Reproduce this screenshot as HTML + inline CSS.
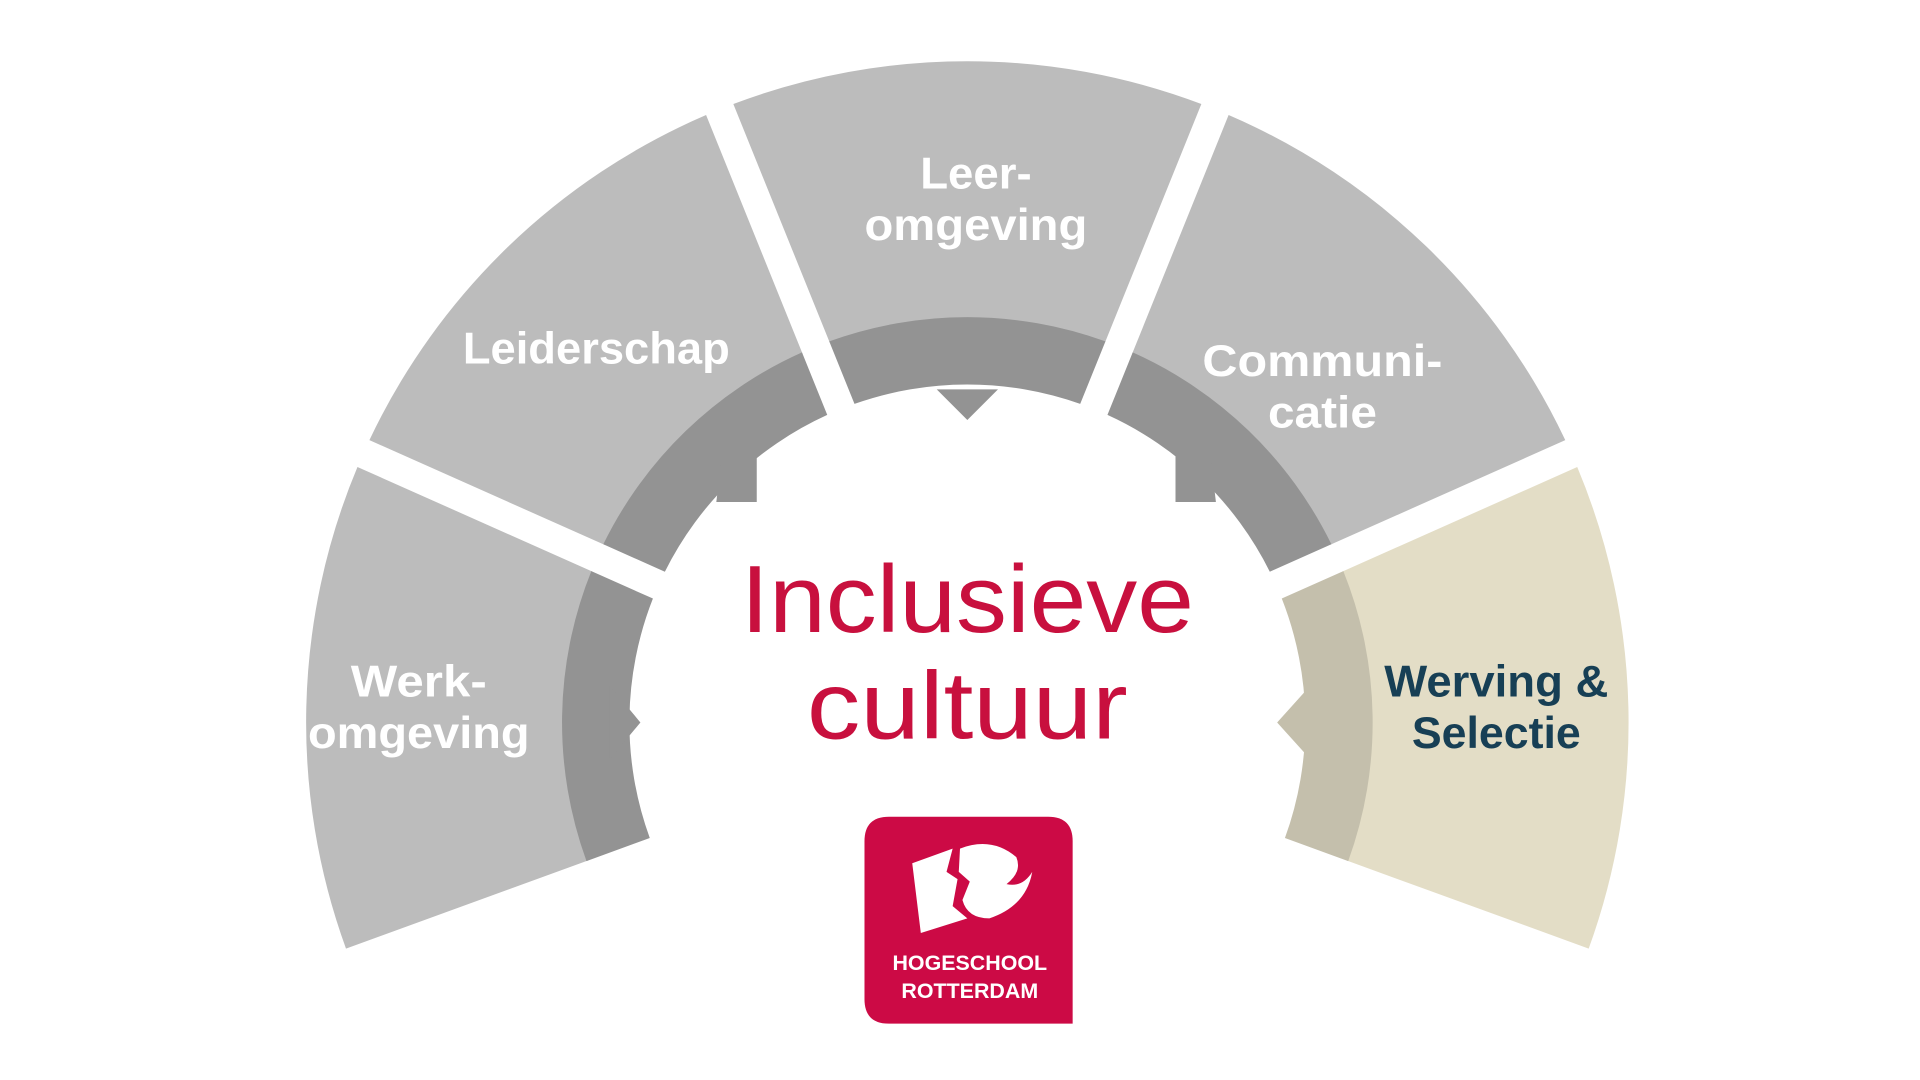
<!DOCTYPE html>
<html><head><meta charset="utf-8"><style>
html,body{margin:0;padding:0;background:#fff;width:1920px;height:1080px;overflow:hidden}
svg{display:block}
text{font-family:"Liberation Sans",sans-serif}
</style></head><body>
<svg id="s" width="1920" height="1080" viewBox="0 0 1568 882" xmlns="http://www.w3.org/2000/svg">
<g id="segs"></g>
<g font-weight="bold" font-size="36" text-anchor="middle" fill="#fff">
<text x="797" y="154" textLength="91" lengthAdjust="spacingAndGlyphs">Leer-</text>
<text x="797" y="196" textLength="182" lengthAdjust="spacingAndGlyphs">omgeving</text>
<text x="487" y="297" textLength="218" lengthAdjust="spacingAndGlyphs">Leiderschap</text>
<text x="1080" y="307" textLength="196" lengthAdjust="spacingAndGlyphs">Communi-</text>
<text x="1080" y="349" textLength="89" lengthAdjust="spacingAndGlyphs">catie</text>
<text x="342" y="569" textLength="111" lengthAdjust="spacingAndGlyphs">Werk-</text>
<text x="342" y="611" textLength="181" lengthAdjust="spacingAndGlyphs">omgeving</text>
<text x="1222" y="569" fill="#173f55" textLength="183" lengthAdjust="spacingAndGlyphs">Werving &amp;</text>
<text x="1222" y="611" fill="#173f55" textLength="138" lengthAdjust="spacingAndGlyphs">Selectie</text>
</g>
<g fill="#c8103e" font-size="78" text-anchor="middle">
<text x="790" y="516" textLength="370" lengthAdjust="spacingAndGlyphs">Inclusieve</text>
<text x="790" y="603" textLength="262" lengthAdjust="spacingAndGlyphs">cultuur</text>
</g>
<path d="M726,667 H856 Q876,667 876,687 V836 H726 Q706,836 706,816 V687 Q706,667 726,667 Z" fill="#cc0a45"/>
<path d="M745,705 L778,693 L773,712 L782,718 L778,740 L790,750 L752,762 Z" fill="#fff"/>
<path d="M784,693 Q810,683 830,700 Q835,712 822,722 Q835,725 843,712 Q838,740 808,750 Q790,750 786,735 L792,720 L783,712 Z" fill="#fff"/>
<g fill="#fff" font-weight="bold" font-size="17.5" text-anchor="middle">
<text x="792" y="792">HOGESCHOOL</text>
<text x="792" y="815">ROTTERDAM</text>
</g>
</svg>
<script>
(function(){
var cx=790,cy=590,R=540,RM=330,RI=276,d=12;
var b=[-110,-66,-22,22,66,110];
function pt(r,a){a=a*Math.PI/180;return [cx+r*Math.sin(a),cy-r*Math.cos(a)];}
function sector(r1,r2,a1,a2,first,last){
  var s1=first?0:1,s2=last?0:1;
  var A1o=a1+s1*Math.asin(d/r2)*180/Math.PI, A2o=a2-s2*Math.asin(d/r2)*180/Math.PI;
  var A1i=a1+s1*Math.asin(d/r1)*180/Math.PI, A2i=a2-s2*Math.asin(d/r1)*180/Math.PI;
  var p1=pt(r2,A1o),p2=pt(r2,A2o),p3=pt(r1,A2i),p4=pt(r1,A1i);
  return "M"+p1+" A"+r2+","+r2+" 0 0 1 "+p2+" L"+p3+" A"+r1+","+r1+" 0 0 0 "+p4+" Z";
}
var g=document.getElementById("segs"),h="";
for(var i=0;i<5;i++){
  var lc=i==4?"#e3ddc6":"#bcbcbc",dc=i==4?"#c4bfac":"#939393";
  h+='<path d="'+sector(RM,R,b[i],b[i+1],i==0,i==4)+'" fill="'+lc+'"/>';
  h+='<path d="'+sector(RI,RM+1,b[i],b[i+1],i==0,i==4)+'" fill="'+dc+'"/>';
}
h+='<path d="M765,318 L815,318 L790,343 Z" fill="#939393"/>';
h+='<path d="M498,560 L523,590 L498,620 Z" fill="#939393"/>';
h+='<path d="M1070,560 L1043,590 L1070,620 Z" fill="#c4bfac"/>';
h+='<path d="M590,368 L618,368 L618,410 L585,410 Z" fill="#939393"/>';
h+='<path d="M960,368 L988,368 L993,410 L960,410 Z" fill="#939393"/>';
g.innerHTML=h;
})();
</script>
</body></html>
